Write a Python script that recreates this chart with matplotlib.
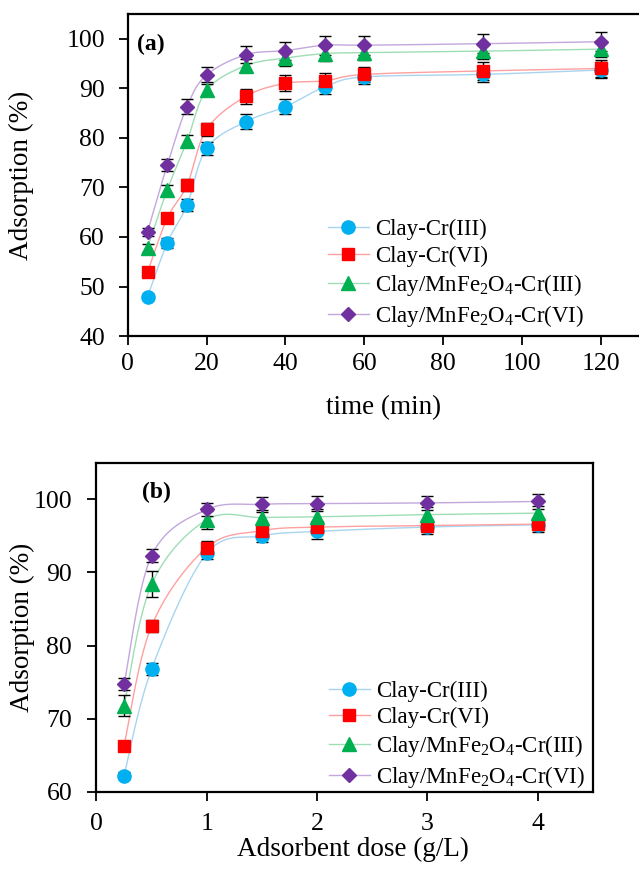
import numpy as np
import matplotlib
matplotlib.use('Agg')
import matplotlib.pyplot as plt

plt.rcParams['font.family'] = ['Liberation Serif', 'DejaVu Serif']
plt.rcParams['mathtext.default'] = 'regular'

# ---- data ----
labels = ['Clay-Cr(III)', 'Clay-Cr(VI)',
          'Clay/MnFe$_2$O$_4$-Cr(III)', 'Clay/MnFe$_2$O$_4$-Cr(VI)']

time_min = [5, 10, 15, 20, 30, 40, 50, 60, 90, 120]
time_ads = [
    [47.9, 58.8, 66.4, 77.9, 83.3, 86.3, 90.3, 92.3, 92.8, 93.7],
    [52.9, 63.8, 70.4, 81.7, 88.4, 91.0, 91.5, 92.8, 93.5, 94.0],
    [57.8, 69.5, 79.3, 89.6, 94.6, 96.1, 97.0, 97.2, 97.5, 97.9],
    [61.0, 74.5, 86.3, 92.7, 96.8, 97.6, 98.7, 98.7, 99.0, 99.4],
]
time_err = [
    [0.5, 1.0, 1.2, 1.3, 1.5, 1.5, 1.5, 1.5, 1.6, 1.6],
    [0.5, 1.0, 1.2, 1.3, 1.5, 1.6, 1.5, 1.6, 1.8, 1.8],
    [0.8, 1.0, 1.2, 1.2, 1.3, 1.5, 1.5, 1.5, 1.5, 1.6],
    [0.8, 1.2, 1.5, 1.5, 1.7, 1.8, 1.9, 1.9, 1.9, 1.9],
]

dose = [0.25, 0.5, 1, 1.5, 2, 3, 4]
dose_ads = [
    [62.2, 76.8, 92.6, 95.0, 95.6, 96.2, 96.5],
    [66.3, 82.7, 93.4, 95.7, 96.2, 96.4, 96.6],
    [71.8, 88.4, 97.2, 97.5, 97.6, 97.9, 98.1],
    [74.7, 92.3, 98.6, 99.3, 99.4, 99.5, 99.7],
]
dose_err = [
    [0.5, 0.8, 0.7, 0.8, 1.0, 1.0, 1.0],
    [0.3, 0.8, 0.9, 0.7, 0.7, 0.8, 0.8],
    [1.5, 1.8, 1.2, 1.0, 1.0, 1.0, 1.0],
    [0.8, 0.9, 0.9, 1.0, 1.0, 1.0, 1.0],
]

marker_colors = ['#00B0F0', '#FF0000', '#00B050', '#7030A0']
line_colors = ['#A9D4F0', '#FFA0A0', '#9FDDB5', '#C2A8DC']
markers = ['o', 's', '^', 'D']
msizes = [9.5, 8, 9.5, 7.5]


def smooth(x, y, n=30):
    # Catmull-Rom style smoothing, like an Excel "smoothed line"
    x = np.asarray(x, float)
    y = np.asarray(y, float)
    px = np.concatenate([[x[0]], x, [x[-1]]])
    py = np.concatenate([[y[0]], y, [y[-1]]])
    xs, ys = [], []
    t = np.linspace(0, 1, n)
    for i in range(1, len(px) - 2):
        p0x, p1x, p2x, p3x = px[i - 1], px[i], px[i + 1], px[i + 2]
        p0y, p1y, p2y, p3y = py[i - 1], py[i], py[i + 1], py[i + 2]
        c1x, c1y = p1x + (p2x - p0x) / 6, p1y + (p2y - p0y) / 6
        c2x, c2y = p2x - (p3x - p1x) / 6, p2y - (p3y - p1y) / 6
        bx = (1 - t) ** 3 * p1x + 3 * (1 - t) ** 2 * t * c1x + 3 * (1 - t) * t ** 2 * c2x + t ** 3 * p2x
        by = (1 - t) ** 3 * p1y + 3 * (1 - t) ** 2 * t * c1y + 3 * (1 - t) * t ** 2 * c2y + t ** 3 * p2y
        xs.extend(bx)
        ys.extend(by)
    return np.array(xs), np.array(ys)


def draw(ax, x, series, errs):
    for i in range(4):
        sx, sy = smooth(x, series[i])
        ax.plot(sx, sy, color=line_colors[i], lw=1.0, zorder=2)
        ax.errorbar(x, series[i], yerr=errs[i], fmt='none', ecolor='black',
                    elinewidth=1.0, capsize=4, capthick=1.0, zorder=3)
        ax.plot(x, series[i], linestyle='none', marker=markers[i], ms=msizes[i],
                color=marker_colors[i], zorder=4)
        # legend handle
        ax.plot([], [], color=line_colors[i], lw=1.0, marker=markers[i],
                ms=msizes[i], markerfacecolor=marker_colors[i],
                markeredgecolor=marker_colors[i], label=labels[i])


def style(ax, xpad, ypad):
    for s in ax.spines.values():
        s.set_linewidth(1.6)
    ax.tick_params(direction='out', length=6.5, width=1.3, labelsize=18.5)
    ax.tick_params(axis='x', pad=xpad)
    ax.tick_params(axis='y', pad=ypad)


def add_legend(ax, x0, y0):
    h, l = ax.get_legend_handles_labels()
    ax.legend(h, l, loc='upper left', bbox_to_anchor=(x0, y0), frameon=False,
              fontsize=16.5, handlelength=1.8, labelspacing=0.22,
              handletextpad=0.25, borderpad=0, borderaxespad=0)


fig = plt.figure(figsize=(6.39, 8.73), dpi=100)

# (a) contact time
ax1 = fig.add_axes([0.2, 0.615, 0.802, 0.369])
draw(ax1, time_min, time_ads, time_err)
ax1.set_xlim(0, 130)
ax1.set_ylim(40, 105)
ax1.set_xticks([0, 20, 40, 60, 80, 100, 120])
ax1.set_yticks([40, 50, 60, 70, 80, 90, 100])
ax1.set_xlabel('time (min)', fontsize=19.5)
ax1.set_ylabel('Adsorption (%)', fontsize=19.5)
ax1.xaxis.set_label_coords(0.5, -0.183)
ax1.yaxis.set_label_coords(-0.184, 0.5)
ax1.text(0.018, 0.905, '(a)', transform=ax1.transAxes, fontsize=17,
         fontweight='bold', va='center', ha='left')
style(ax1, 6, 10)
add_legend(ax1, 0.39, 0.363)

# (b) adsorbent dose
ax2 = fig.add_axes([0.151, 0.093, 0.777, 0.377])
draw(ax2, dose, dose_ads, dose_err)
ax2.set_xlim(0, 4.5)
ax2.set_ylim(60, 105)
ax2.set_xticks([0, 1, 2, 3, 4])
ax2.set_yticks([60, 70, 80, 90, 100])
ax2.set_xlabel('Adsorbent dose (g/L)', fontsize=19.5)
ax2.set_ylabel('Adsorption (%)', fontsize=19.5)
ax2.xaxis.set_label_coords(0.517, -0.137)
ax2.yaxis.set_label_coords(-0.123, 0.5)
ax2.text(0.091, 0.909, '(b)', transform=ax2.transAxes, fontsize=17,
         fontweight='bold', va='center', ha='left')
style(ax2, 9, 11)
add_legend(ax2, 0.468, 0.337)

fig.savefig('out.png', dpi=100)
